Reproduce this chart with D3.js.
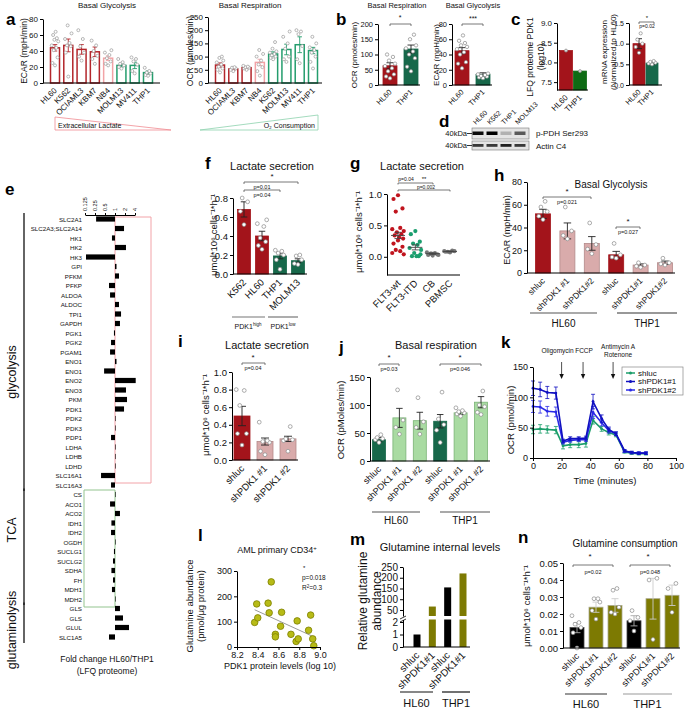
<!DOCTYPE html>
<html><head><meta charset="utf-8">
<script src="https://cdn.jsdelivr.net/npm/d3@7/dist/d3.min.js"></script>
<style>
html,body{margin:0;padding:0;background:#fff;}
svg{display:block;font-family:"Liberation Sans",Arial,Helvetica,sans-serif;}
</style></head><body>
<svg id="fig" width="685" height="709" viewBox="0 0 685 709"></svg>
<script>
// ===================== DATA =====================
// panel a
const aGlyCats = ["HL60","K562","OCIAML3","KBM7","NB4","MOLM13","MV411","THP1"];
const aGlyMean = [44,47,42,39,31,22,22,13];
const aGlyErr  = [4,8,6,6,3,2,4,2];
const aGlyPts  = [[22,25,32,41,44,47,52,54,56,60,64],[8,38,46,47,50,55,62,72],[28,33,38,46,55,66],[24,30,34,40,47,53],[22,24,27,31,35,38,41],[18,20,22,24,26,30],[12,15,23,27,30,32],[9,10,12,13,15,19]];
const aGlyGroup = ["hi","hi","hi","hi","mid","lo","lo","lo"];
const aRespCats = ["HL60","OCIAML3","KBM7","NB4","K562","MOLM13","MV411","THP1"];
const aRespMean = [68,53,58,78,110,127,145,123];
const aRespErr  = [8,4,4,12,8,20,30,12];
const aRespPts  = [[40,50,55,62,70,78,85,95,100],[45,50,55,58,60],[50,55,58,60,62,65],[28,45,60,70,85,100,110,125],[90,95,100,105,110,115,120,130,155],[80,90,100,130,150,175,195],[75,90,140,185,195,200],[55,80,100,115,125,135,150,175]];
const aRespGroup = ["hi","hi","hi","mid","lo","lo","lo","lo"];
// panel b
const bCats = ["HL60","THP1"];
const bRespMean = [63,118], bRespErr = [10,13];
const bRespPts = [[22,28,35,45,55,62,70,80,92,100],[45,60,88,100,110,120,130,150,165]];
const bGlyMean = [45,14], bGlyErr = [4,2];
const bGlyPts = [[22,28,30,40,43,47,50,52,55,58,65],[9,10,11,12,13,14,15]];
// panel c
const cLfq = [8.3,7.78];
const cMrnaMean = [1.0,0.53], cMrnaErr = [0.12,0.03];
const cMrnaPts = [[0.78,0.92,1.0,1.1,1.25],[0.5,0.52,0.54,0.56,0.58]];
// panel d
const dLanes = ["HL60","K562","THP1","MOLM13"];
const dPPDH = [0.95,1.0,0.22,0.6];
const dActin = [0.75,0.75,0.85,0.75];
// panel e
const eGenes = ["SLC2A1","SLC2A3;SLC2A14","HK1","HK2","HK3","GPI","PFKM","PFKP","ALDOA","ALDOC","TPI1","GAPDH","PGK1","PGK2","PGAM1","ENO1","ENO1","ENO2","ENO3","PKM","PDK1","PDK2","PDK3","PDP1","LDHA","LDHB","LDHD","SLC16A1","SLC16A3","CS","ACO1","ACO2","IDH1","IDH2","OGDH","SUCLG1","SUCLG2","SDHA","FH","MDH1","MDH2","GLS","GLS","GLUL","SLC1A5"];
const eFold = [0.27,1.87,0.81,2.14,0.134,1.11,1.32,0.66,0.71,1.32,1.52,1.41,0.93,0.76,0.71,1.11,0.47,4.2,2.14,2.3,1.87,1.01,1.0,0.76,1.03,1.0,1.0,0.38,0.76,1.03,0.71,1.41,0.78,0.76,1.0,0.93,0.87,0.78,0.87,0.81,1.03,1.41,1.74,2.64,0.66];
const eTicks = [0.125,0.25,0.5,1,2,4];
const ePathways = [{name:"glycolysis",from:0,to:28},{name:"TCA",from:29,to:40},{name:"glutaminolysis",from:41,to:44}];
// panel f
const fCats = ["K562","HL60","THP1","MOLM13"];
const fMean = [0.68,0.40,0.19,0.14], fErr = [0.08,0.05,0.03,0.02];
const fPts = [[0.52,0.66,0.76,0.8],[0.26,0.3,0.34,0.38,0.5,0.53,0.57],[0.05,0.15,0.2,0.22,0.24,0.25],[0.1,0.11,0.15,0.19,0.2]];
// panel g
const gCats = ["FLT3-wt","FLT3-ITD","CB","PBMSC"];
const gPts = [[0.98,0.92,0.77,0.72,0.46,0.44,0.41,0.39,0.36,0.34,0.31,0.29,0.26,0.21,0.16,0.11,0.09,0.06,0.04],[0.41,0.36,0.24,0.21,0.19,0.14,0.11,0.06,0.01,0.01,0.01,0.04],[0.02,0.03,0.04,0.05,0.06,0.07,0.03,0.05],[0.07,0.08,0.09,0.08,0.1,0.09]];
const gMean = [0.34,0.15,0.05,0.085], gSem = [0.05,0.04,0.01,0.006];
// panel h
const hCats = ["shluc","shPDK1 #1","shPDK1#2","shluc","shPDK1#1","shPDK1#2"];
const hMean = [52,37,26,16,7,9], hErr = [4,7,6,3,1,1.5];
const hPts = [[47,50,54,58,63],[30,33,37,58],[17,21,25,44],[13,14,16,26],[5,6,7,9],[7,8,9,13]];
// panel i
const iCats = ["shluc","shPDK1 #1","shPDK1 #2"];
const iMean = [0.5,0.21,0.24], iErr = [0.11,0.04,0.03];
const iPts = [[0.17,0.3,0.3,0.62,0.79,0.8],[0.06,0.1,0.2,0.21,0.22,0.43],[0.1,0.22,0.23,0.24,0.38]];
// panel j
const jCats = ["shluc","shPDK1 #1","shPDK1 #2","shluc","shPDK1 #1","shPDK1 #2"];
const jMean = [38,77,72,71,86,105], jErr = [4,17,15,12,3,10];
const jPts = [[33,38,40,42,47],[48,60,73,127],[48,60,70,113],[33,55,65,75,123],[80,84,86,88,90,95],[83,87,97,100,125]];
// panel k
const kTime = [0,5,10,16,21,26,32,37,42,48,53,58,64,69,74,79];
const kShluc = [47,48,47,46,20,22,22,24,62,48,42,38,10,8,7,7];
const kShlucErr = [7,7,6,6,5,5,5,6,6,4,4,3,2,2,2,2];
const kSh1 = [115,113,108,107,28,32,32,33,93,65,47,40,12,9,8,8];
const kSh1Err = [12,12,10,10,3,3,3,3,12,6,4,3,2,2,2,2];
const kSh2 = [85,84,77,76,26,29,30,30,75,58,45,40,11,9,8,8];
const kSh2Err = [10,10,8,8,3,3,3,3,10,5,4,3,2,2,2,2];
const kInjections = [{t:20,label:["Oligomycin"]},{t:35,label:["FCCP"]},{t:56,label:["Antimycin A","Rotenone"]}];
// panel l
const lPDK1 = [8.37,8.39,8.40,8.50,8.51,8.53,8.57,8.57,8.62,8.63,8.72,8.78,8.77,8.79,8.89,8.91,8.93,8.94];
const lGln  = [97,170,115,173,135,257,50,40,82,137,50,103,22,32,66,126,32,5];
const lFit  = [[8.37,147],[8.93,42]];
// panel m
const mCats = ["shluc","shPDK1#1","shluc","shPDK1#1"];
const mVals = [1,66,155,220];
// panel n
const nCats = ["shluc","shPDK1#1","shPDK1#2","shluc","shPDK1#1","shPDK1#2"];
const nMean = [0.012,0.024,0.025,0.016,0.029,0.031], nErr = [0.003,0.003,0.004,0.003,0.012,0.006];
const nPts = [[0.0,0.009,0.012,0.014,0.015,0.019],[0.017,0.022,0.027,0.029,0.029],[0.02,0.021,0.024,0.034,0.035],[0.01,0.016,0.018,0.022],[0.005,0.04,0.041],[0.021,0.035,0.038]];

// ===================== STYLE =====================
const FONT = "'Liberation Sans', Arial, Helvetica, sans-serif";
const RED = "#a3141b", GREEN = "#17684a", DGREEN = "#0e6b14";
const PINK = "#d9abab", PINKS = "#b38a8a", LGREEN = "#a9dba2", LGREENS = "#7bb376";
const OLIVE = "#7d7a02";
const aCol = {hi:"#b3262b", mid:"#f2a3a6", lo:"#249d6d"};
const JIT = [0,-0.28,0.28,-0.14,0.14,-0.36,0.36,-0.07,0.21,-0.21,0.07,0.32];

const svg = d3.select("#fig");
const defs = svg.append("defs");

function txt(g,x,y,s,o={}){
  const t = g.append("text").attr("x",x).attr("y",y).text(s)
    .attr("font-size",o.fs||9).attr("text-anchor",o.anchor||"middle").attr("fill",o.fill||"#111");
  if(o.bold) t.attr("font-weight","bold");
  if(o.rot!=null) t.attr("transform",`rotate(${o.rot},${x},${y})`);
  if(o.db) t.attr("dominant-baseline",o.db);
  return t;
}
function panelLabel(x,y,s){ txt(svg,x,y,s,{fs:17,bold:true,anchor:"start",fill:"#000"}); }
function ylab(x,y,s,fs){ return txt(svg,x,y,s,{fs:fs,rot:-90,db:"central"}); }
function styleAxis(ax,fs){
  ax.selectAll("path.domain").attr("stroke","#000").attr("stroke-width",1);
  ax.selectAll(".tick line").attr("stroke","#000");
  ax.selectAll(".tick text").attr("font-size",fs).attr("font-family",FONT).attr("fill","#111");
}
function yAxis(g,y,x,ticks,fmt,fs){
  const ax = g.append("g").attr("transform",`translate(${x},0)`)
    .call(d3.axisLeft(y).tickValues(ticks).tickFormat(fmt).tickSize(3).tickSizeOuter(0).tickPadding(2));
  styleAxis(ax,fs); return ax;
}
function bracket(x1,x2,y,h=2,col="#555"){
  svg.append("path").attr("d",`M${x1},${y+h}V${y}H${x2}V${y+h}`).attr("fill","none").attr("stroke",col).attr("stroke-width",0.8);
}
function groupLine(x1,x2,y,label,ly,fs,col="#333"){
  svg.append("line").attr("x1",x1).attr("x2",x2).attr("y1",y).attr("y2",y).attr("stroke",col).attr("stroke-width",1.2);
  if(label) txt(svg,(x1+x2)/2,ly,label,{fs:fs});
}

function barPanel(c){
  const g = svg.append("g");
  const n = c.vals.length;
  const x = d3.scalePoint().domain(d3.range(n)).range([c.xFirst,c.xLast]);
  const y = d3.scaleLinear().domain(c.yDomain).range(c.yRange);
  const base = y(c.yDomain[0]);
  g.selectAll(null).data(c.vals).join("rect")
    .attr("x",(d,i)=>x(i)-c.barW/2).attr("y",d=>y(d))
    .attr("width",c.barW).attr("height",d=>base-y(d))
    .attr("fill",(d,i)=>c.fill[i]).attr("stroke",(d,i)=>c.stroke[i]).attr("stroke-width",c.sw||0.8);
  const ec = (i)=> Array.isArray(c.errColor)? c.errColor[i] : (c.errColor||"#222");
  if(c.errs) c.errs.forEach((e,i)=>{
    const cx=x(i), cw=(c.capW||c.barW*0.5)/2, v=c.vals[i];
    const lo = Math.max(v-e,c.yDomain[0]);
    g.append("path").attr("d",`M${cx},${y(lo)}V${y(v+e)}M${cx-cw},${y(v+e)}H${cx+cw}M${cx-cw},${y(lo)}H${cx+cw}`)
      .attr("stroke",ec(i)).attr("stroke-width",c.ew||0.9).attr("fill","none");
  });
  if(c.pts) c.pts.forEach((arr,i)=>{
    g.selectAll(null).data(arr).join("circle")
      .attr("cx",(d,j)=>x(i)+JIT[j%JIT.length]*c.barW).attr("cy",d=>y(d)).attr("r",c.r||1.8)
      .attr("fill",c.ptFill||"#fff").attr("stroke",c.ptStroke||"#8a8a8a").attr("stroke-width",0.7);
  });
  yAxis(g,y,c.axisX,c.ticks,c.fmt,c.fs);
  g.append("line").attr("x1",c.axisX).attr("x2",c.axisEnd).attr("y1",base).attr("y2",base).attr("stroke","#000");
  const lfs = c.lfs||c.fs;
  c.cats.forEach((s,i)=>txt(g,x(i)+lfs*0.3,base+lfs*0.75+2,s,{fs:lfs,anchor:"end",rot:-45}));
  return {g,x,y,base};
}

// ===================== PANEL a =====================
panelLabel(6,25,"a");
txt(svg,107,8,"Basal Glycolysis",{fs:8});
barPanel({cats:aGlyCats,vals:aGlyMean,errs:aGlyErr,pts:aGlyPts,
  fill:aGlyMean.map(()=>"#fff"),stroke:aGlyGroup.map(k=>aCol[k]),errColor:aGlyGroup.map(k=>aCol[k]),sw:1.5,
  xFirst:55,xLast:148,barW:9,axisX:43,axisEnd:160,yDomain:[0,80],yRange:[83,19],
  ticks:[0,20,40,60,80],fmt:d3.format("d"),fs:8,r:1.5,ptStroke:"#9a9a9a"});
ylab(24,51,"ECAR (mpH/min)",8.5);
txt(svg,250,8,"Basal Respiration",{fs:8});
barPanel({cats:aRespCats,vals:aRespMean,errs:aRespErr,pts:aRespPts,
  fill:aRespMean.map(()=>"#fff"),stroke:aRespGroup.map(k=>aCol[k]),errColor:aRespGroup.map(k=>aCol[k]),sw:1.5,
  xFirst:220,xLast:313,barW:9,axisX:208,axisEnd:322,yDomain:[0,250],yRange:[83,17],
  ticks:[0,50,100,150,200,250],fmt:d3.format("d"),fs:8,r:1.5,ptStroke:"#9a9a9a"});
ylab(190,51,"OCR (pmoles/min)",8.5);
// triangles
const gp = defs.append("linearGradient").attr("id","gPink");
gp.append("stop").attr("offset","0%").attr("stop-color","#f6b3b6");
gp.append("stop").attr("offset","100%").attr("stop-color","#c4001a");
const gg = defs.append("linearGradient").attr("id","gGreen");
gg.append("stop").attr("offset","0%").attr("stop-color","#0b8a55");
gg.append("stop").attr("offset","100%").attr("stop-color","#b9e5cd");
svg.append("path").attr("d","M55,117L55,130L171,130Z").attr("fill","none").attr("stroke","#f08c92").attr("stroke-width",0.8);
svg.append("line").attr("x1",55).attr("x2",171).attr("y1",130).attr("y2",130).attr("stroke","url(#gPink)").attr("stroke-width",1.6);
txt(svg,58,127.5,"Extracellular Lactate",{fs:7,anchor:"start"});
svg.append("path").attr("d","M200,130L318,115L318,130Z").attr("fill","none").attr("stroke","#8dd2ad").attr("stroke-width",0.8);
svg.append("line").attr("x1",200).attr("x2",318).attr("y1",130).attr("y2",130).attr("stroke","url(#gGreen)").attr("stroke-width",1.6);
txt(svg,315,127.5,"O\u2082 Consumption",{fs:7,anchor:"end"});

// ===================== PANEL b =====================
panelLabel(336,25,"b");
txt(svg,397,8,"Basal Respiration",{fs:7.5});
barPanel({cats:bCats,vals:bRespMean,errs:bRespErr,pts:bRespPts,fill:[RED,GREEN],stroke:[RED,GREEN],
  xFirst:390,xLast:411,barW:14,axisX:378,axisEnd:420,yDomain:[0,200],yRange:[85,24],
  ticks:[0,50,100,150,200],fmt:d3.format("d"),fs:7.5,r:1.7});
ylab(354,55,"OCR (pmoles/min)",8);
bracket(390,411,24); txt(svg,400,20,"*",{fs:7});
txt(svg,473,8,"Basal Glycolysis",{fs:7.5});
barPanel({cats:bCats,vals:bGlyMean,errs:bGlyErr,pts:bGlyPts,fill:[RED,GREEN],stroke:[RED,GREEN],
  xFirst:462,xLast:483,barW:14,axisX:452,axisEnd:492,yDomain:[0,80],yRange:[85,24],
  ticks:[0,20,40,60,80],fmt:d3.format("d"),fs:7.5,r:1.7});
ylab(436,55,"ECAR (mpH/min)",8);
bracket(462,483,24); txt(svg,473,21,"***",{fs:7});

// ===================== PANEL c =====================
panelLabel(511,25,"c");
barPanel({cats:bCats,vals:cLfq,pts:cLfq.map(v=>[v]),fill:[RED,DGREEN],stroke:[RED,DGREEN],
  xFirst:566,xLast:580,barW:13,axisX:557,axisEnd:588,yDomain:[7.3,9.0],yRange:[90,23],
  ticks:[7.5,8.0,8.5,9.0],fmt:d3.format(".1f"),fs:8,r:1.5,ptFill:"#ddd"});
ylab(530,57,"LFQ proteome PDK1",8.5);
ylab(541,57,"(log10)",8.5);
barPanel({cats:bCats,vals:cMrnaMean,errs:cMrnaErr,pts:cMrnaPts,fill:[RED,GREEN],stroke:[RED,GREEN],
  xFirst:639,xLast:652,barW:12,axisX:629,axisEnd:662,yDomain:[0,1.5],yRange:[85,23],
  ticks:[0,0.5,1.0,1.5],fmt:d3.format(".1f"),fs:7,lfs:7.5,r:1.6});
ylab(604,52,"mRNA expression",8);
ylab(613,52,"(Normalized to HL60)",8);
bracket(639,654,22); txt(svg,647,20,"*",{fs:6}); txt(svg,647,28,"p=0.02",{fs:5});

// ===================== PANEL d =====================
panelLabel(439,127,"d");
const dx = d3.scalePoint().domain(dLanes).range([478,520]);
dLanes.forEach(l=>txt(svg,dx(l)-2,125,l,{fs:7,anchor:"start",rot:-45}));
const blur = defs.append("filter").attr("id","blur").attr("x","-20%").attr("y","-50%").attr("width","140%").attr("height","200%");
blur.append("feGaussianBlur").attr("stdDeviation",0.7);
svg.append("rect").attr("x",472).attr("y",128).attr("width",57).attr("height",11).attr("fill","#e4e4e4").attr("stroke","#777").attr("stroke-width",0.6);
svg.append("rect").attr("x",472).attr("y",141).attr("width",57).attr("height",9).attr("fill","#e4e4e4").attr("stroke","#777").attr("stroke-width",0.6);
svg.selectAll(null).data(dLanes).join("rect").attr("x",l=>dx(l)-5.5).attr("y",131.5).attr("width",11).attr("height",3.5)
  .attr("fill","#000").attr("opacity",(l,i)=>dPPDH[i]).attr("filter","url(#blur)");
svg.selectAll(null).data(dLanes).join("rect").attr("x",l=>dx(l)-5.5).attr("y",144).attr("width",11).attr("height",2.8)
  .attr("fill","#000").attr("opacity",(l,i)=>dActin[i]).attr("filter","url(#blur)");
txt(svg,467,136,"40kDa",{fs:7.5,anchor:"end"}); svg.append("line").attr("x1",467).attr("x2",472).attr("y1",133.5).attr("y2",133.5).attr("stroke","#333");
txt(svg,467,148,"40kDa",{fs:7.5,anchor:"end"}); svg.append("line").attr("x1",467).attr("x2",472).attr("y1",145.5).attr("y2",145.5).attr("stroke","#333");
txt(svg,536,136,"p-PDH Ser293",{fs:8,anchor:"start"});
txt(svg,536,149,"Actin C4",{fs:8,anchor:"start"});

// ===================== PANEL e =====================
panelLabel(5,195,"e");
const ex = d3.scaleLog().base(2).domain([0.125,4]).range([85,135]);
const ey = d3.scalePoint().domain(d3.range(eGenes.length)).range([219,637]);
const eAx = svg.append("g").attr("transform","translate(0,215)")
  .call(d3.axisTop(ex).tickValues(eTicks).tickFormat(d=>String(d)).tickSize(2).tickSizeOuter(0));
styleAxis(eAx,5.5);
eAx.selectAll(".tick text").attr("transform","rotate(-90)").attr("text-anchor","start").attr("x",4).attr("y",0).attr("dy","0.35em");
svg.append("path").attr("d",`M${ex(1)},217H151V483H${ex(1)}Z`).attr("fill","none").attr("stroke","#f2a3a8").attr("stroke-width",1);
svg.append("path").attr("d",`M${ex(1)},490H84V607H${ex(1)}Z`).attr("fill","none").attr("stroke","#93c48f").attr("stroke-width",1);
svg.selectAll(null).data(eFold).join("rect")
  .attr("x",d=>Math.min(ex(1),ex(d))).attr("y",(d,i)=>ey(i)-2.6)
  .attr("width",d=>Math.max(0.6,Math.abs(ex(d)-ex(1)))).attr("height",5.2).attr("fill","#000");
eGenes.forEach((s,i)=>txt(svg,82,ey(i),s,{fs:6.2,anchor:"end",db:"central"}));
const pwLabelY = {glycolysis:372,TCA:530,glutaminolysis:630};
ePathways.forEach(p=>{
  const y1 = ey(p.from)-6, y2 = ey(p.to)+6;
  svg.append("line").attr("x1",24).attr("x2",24).attr("y1",y1).attr("y2",y2).attr("stroke","#111").attr("stroke-width",1.3);
  ylab(12,pwLabelY[p.name],p.name,12.5);
});
txt(svg,107,662,"Fold change HL60/THP1",{fs:8.5});
txt(svg,107,674,"(LFQ proteome)",{fs:8.5});

// ===================== PANEL f =====================
panelLabel(205,169,"f");
txt(svg,272,170,"Lactate secretion",{fs:11});
barPanel({cats:fCats,vals:fMean,errs:fErr,pts:fPts,fill:[RED,RED,GREEN,GREEN],stroke:[RED,RED,GREEN,GREEN],
  xFirst:244,xLast:298,barW:13,axisX:233,axisEnd:307,yDomain:[0,0.8],yRange:[274,198],
  ticks:[0,0.2,0.4,0.6,0.8],fmt:d3.format(".1f"),fs:9.5,lfs:9.5,r:1.9});
ylab(213,235,"\u03bcmol*10\u2076 cells\u207b\u00b9*h\u207b\u00b9",9.5);
txt(svg,272,179,"*",{fs:8}); bracket(244,298,182); txt(svg,262,188.5,"p=0.01",{fs:5.5});
bracket(244,280,190); txt(svg,262,196.5,"p=0.04",{fs:5.5});
groupLine(232,265,317,"",0,7,"#777"); groupLine(268,298,317,"",0,7,"#777");
txt(svg,248,329,"PDK1",{fs:7}).append("tspan").attr("dy",-3).attr("font-size",4.5).text("high");
txt(svg,283,329,"PDK1",{fs:7}).append("tspan").attr("dy",-3).attr("font-size",4.5).text("low");

// ===================== PANEL g =====================
panelLabel(350,169,"g");
txt(svg,422,170,"Lactate secretion",{fs:11});
{
  const g = svg.append("g");
  const x = d3.scalePoint().domain(gCats).range([398,450]);
  const y = d3.scaleLinear().domain([-0.29,1.0]).range([275,194]);
  const cols = ["#c0141e","#1a9e6e","#777","#777"];
  gPts.forEach((arr,i)=>{
    g.selectAll(null).data(arr).join("circle").attr("cx",(d,j)=>x(gCats[i])+JIT[j%JIT.length]*16).attr("cy",d=>y(d))
      .attr("r",2.1).attr("fill",cols[i]);
    const cx = x(gCats[i]);
    g.append("path").attr("d",`M${cx-7},${y(gMean[i])}H${cx+7}M${cx},${y(gMean[i]-gSem[i])}V${y(gMean[i]+gSem[i])}M${cx-3.5},${y(gMean[i]-gSem[i])}H${cx+3.5}M${cx-3.5},${y(gMean[i]+gSem[i])}H${cx+3.5}`)
      .attr("stroke","#444").attr("stroke-width",0.9).attr("fill","none");
  });
  yAxis(g,y,387,[0,0.5,1.0],d3.format(".1f"),9.5);
  g.append("line").attr("x1",387).attr("x2",460).attr("y1",275).attr("y2",275).attr("stroke","#000");
  gCats.forEach(s=>txt(g,x(s)+3,284,s,{fs:9.5,anchor:"end",rot:-45}));
}
ylab(358,232,"\u03bcmol*10\u2076 cells\u207b\u00b9*h\u207b\u00b9",9.5);
bracket(398,433,183,1.5); txt(svg,406,181,"p=0.04",{fs:5}); txt(svg,424,181,"**",{fs:6});
bracket(398,450,190,1.5); txt(svg,426,188.5,"p=0.002",{fs:5});

// ===================== PANEL h =====================
panelLabel(494,181,"h");
txt(svg,611,188,"Basal Glycolysis",{fs:10});
barPanel({cats:hCats,vals:hMean,errs:hErr,pts:hPts,fill:[RED,PINK,PINK,RED,PINK,PINK],stroke:[RED,PINKS,PINKS,RED,PINKS,PINKS],
  xFirst:543,xLast:665,barW:15,axisX:527,axisEnd:675,yDomain:[0,80],yRange:[273,182],
  ticks:[0,20,40,60,80],fmt:d3.format("d"),fs:9,lfs:8.5,r:1.9});
ylab(507,230,"ECAR (mpH/min)",9);
txt(svg,567,194,"*",{fs:8}); bracket(543,591,197); txt(svg,567,203.5,"p=0.021",{fs:5.5});
txt(svg,628,224,"*",{fs:8}); bracket(616,640,227); txt(svg,628,233.5,"p=0.027",{fs:5.5});
groupLine(530,597,313,"HL60",327,10,"#555");
groupLine(617,677,313,"THP1",327,10,"#333");

// ===================== PANEL i =====================
panelLabel(178,347,"i");
txt(svg,267,349,"Lactate secretion",{fs:11});
barPanel({cats:iCats,vals:iMean,errs:iErr,pts:iPts,fill:[RED,PINK,PINK],stroke:[RED,PINKS,PINKS],
  xFirst:242,xLast:288,barW:16,axisX:232,axisEnd:298,yDomain:[0,1.0],yRange:[460,372],
  ticks:[0,0.2,0.4,0.6,0.8,1.0],fmt:d3.format(".1f"),fs:9.5,lfs:9.5,r:1.9});
ylab(205,415,"\u03bcmol*10\u2076 cells\u207b\u00b9*h\u207b\u00b9",9.5);
txt(svg,253,360,"*",{fs:8}); bracket(242,265,363); txt(svg,253,369.5,"p=0.04",{fs:5.5});

// ===================== PANEL j =====================
panelLabel(339,353,"j");
txt(svg,436,349,"Basal respiration",{fs:11});
barPanel({cats:jCats,vals:jMean,errs:jErr,pts:jPts,fill:[GREEN,LGREEN,LGREEN,GREEN,LGREEN,LGREEN],stroke:[GREEN,LGREENS,LGREENS,GREEN,LGREENS,LGREENS],
  xFirst:379,xLast:481,barW:13,axisX:370,axisEnd:490,yDomain:[0,150],yRange:[461,377],
  ticks:[0,50,100,150],fmt:d3.format("d"),fs:9.5,lfs:9,r:1.9});
ylab(340,420,"OCR (pMoles/min)",9.5);
txt(svg,389,360,"*",{fs:8}); bracket(379,399,364); txt(svg,389,370.5,"p=0.03",{fs:5.5});
txt(svg,460,360,"*",{fs:8}); bracket(440,481,364); txt(svg,460,370.5,"p=0.046",{fs:5.5});
groupLine(372,420,512,"HL60",524,10,"#555");
groupLine(440,490,512,"THP1",524,10,"#555");

// ===================== PANEL k =====================
panelLabel(501,348,"k");
{
  const g = svg.append("g");
  const x = d3.scaleLinear().domain([0,100]).range([533,676]);
  const y = d3.scaleLinear().domain([0,150]).range([458,367]);
  const series = [
    {v:kShluc,e:kShlucErr,c:"#1b9e6a",name:"shluc"},
    {v:kSh2,e:kSh2Err,c:"#2a2ae6",name:"shPDK1#2"},
    {v:kSh1,e:kSh1Err,c:"#1010c0",name:"shPDK1#1"}];
  const line = d3.line().x((d,i)=>x(kTime[i])).y(d=>y(d));
  series.forEach(s=>{
    s.v.forEach((v,i)=>{
      const cx=x(kTime[i]);
      g.append("path").attr("d",`M${cx},${y(v-s.e[i])}V${y(v+s.e[i])}M${cx-2},${y(v-s.e[i])}H${cx+2}M${cx-2},${y(v+s.e[i])}H${cx+2}`)
        .attr("stroke",s.c).attr("stroke-width",0.8).attr("fill","none");
    });
    g.append("path").datum(s.v).attr("d",line).attr("fill","none").attr("stroke",s.c).attr("stroke-width",1.6);
    g.selectAll(null).data(s.v).join("circle").attr("cx",(d,i)=>x(kTime[i])).attr("cy",d=>y(d)).attr("r",1.4).attr("fill",s.c);
  });
  yAxis(g,y,533,[0,50,100,150],d3.format("d"),9);
  const xa = g.append("g").attr("transform","translate(0,458)")
    .call(d3.axisBottom(x).tickValues([0,20,40,60,80,100]).tickSize(3).tickSizeOuter(0).tickPadding(2));
  styleAxis(xa,9);
  kInjections.forEach(k=>{
    const ax = x(k.t);
    g.append("line").attr("x1",ax).attr("x2",ax).attr("y1",362).attr("y2",374).attr("stroke","#222").attr("stroke-width",0.8);
    g.append("path").attr("d",`M${ax-2.2},${374}L${ax+2.2},${374}L${ax},${379}Z`).attr("fill","#111");
    if(k.label.length===1) txt(g,ax-4+(k.t>30?5:0),353,k.label[0],{fs:6.5});
    else { txt(g,ax+5,349,k.label[0],{fs:6.5}); txt(g,ax+5,357,k.label[1],{fs:6.5}); }
  });
  g.append("rect").attr("x",622).attr("y",367).attr("width",61).attr("height",28).attr("fill","#fff").attr("stroke","#888").attr("stroke-width",0.7);
  [series[0],series[2],series[1]].forEach((s,i)=>{
    const ly = 373+i*8.5;
    g.append("line").attr("x1",626).attr("x2",635).attr("y1",ly).attr("y2",ly).attr("stroke",s.c).attr("stroke-width",1.5);
    g.append("circle").attr("cx",630.5).attr("cy",ly).attr("r",1.5).attr("fill",s.c);
    txt(g,638,ly,s.name,{fs:8,anchor:"start",db:"central"});
  });
}
ylab(510,420,"OCR (pmol/min)",9.5);
txt(svg,605,484,"Time (minutes)",{fs:9.5});

// ===================== PANEL l =====================
panelLabel(198,541,"l");
txt(svg,277,553,"AML primary CD34",{fs:9}).append("tspan").attr("dy",-3.5).attr("font-size",6).text("+");
{
  const g = svg.append("g");
  const x = d3.scaleLinear().domain([8.2,9.0]).range([237,320]);
  const y = d3.scaleLinear().domain([0,300]).range([647,571]);
  g.append("path").datum(lFit).attr("d",d3.line().x(d=>x(d[0])).y(d=>y(d[1]))).attr("stroke","#9a9a9a").attr("stroke-width",1).attr("fill","none");
  g.selectAll(null).data(lPDK1).join("circle").attr("cx",d=>x(d)).attr("cy",(d,i)=>y(lGln[i])).attr("r",3.3)
    .attr("fill","#b7bb16").attr("stroke","#7c7f00").attr("stroke-width",0.8);
  yAxis(g,y,237,[0,100,200,300],d3.format("d"),9);
  const xa = g.append("g").attr("transform","translate(0,647)")
    .call(d3.axisBottom(x).tickValues([8.2,8.4,8.6,8.8,9.0]).tickFormat(d3.format(".1f")).tickSize(3).tickSizeOuter(0).tickPadding(2));
  styleAxis(xa,9);
}
txt(svg,303,570,"*",{fs:6,anchor:"start"});
txt(svg,302,580,"p=0.018",{fs:6.5,anchor:"start"});
txt(svg,302,590,"R",{fs:6.5,anchor:"start"}).call(t=>{t.append("tspan").attr("dy",-2.5).attr("font-size",4.5).text("2");t.append("tspan").attr("dy",2.5).text("=0.3");});
ylab(189,606,"Glutamine abundance",9.5);
ylab(200,606,"(pmol/\u03bcg protein)",9.5);
txt(svg,280,669,"PDK1 protein levels (log 10)",{fs:9});

// ===================== PANEL m =====================
panelLabel(350,545,"m");
txt(svg,440,551,"Glutamine internal levels",{fs:11});
{
  const g = svg.append("g");
  const x = d3.scalePoint().domain(d3.range(mVals.length)).range([417,463]);
  const yLo = d3.scaleLinear().domain([0,2.2]).range([647,619.5]);
  const yHi = d3.scaleLinear().domain([22,250]).range([616,567]);
  const cols = ["#000",OLIVE,"#000",OLIVE];
  mVals.forEach((v,i)=>{
    const cx=x(i), w=7;
    if(v<=2.2){
      g.append("rect").attr("x",cx-w/2).attr("y",yLo(v)).attr("width",w).attr("height",647-yLo(v)).attr("fill",cols[i]);
    } else {
      g.append("rect").attr("x",cx-w/2).attr("y",yLo(2.2)).attr("width",w).attr("height",647-yLo(2.2)).attr("fill",cols[i]);
      g.append("rect").attr("x",cx-w/2).attr("y",yHi(v)).attr("width",w).attr("height",616-yHi(v)).attr("fill",cols[i]);
    }
  });
  yAxis(g,yLo,403,[0,1,2],d3.format("d"),10);
  yAxis(g,yHi,403,[50,100,150,200,250],d3.format("d"),10);
  g.append("path").attr("d","M400,619L406,616M400,622L406,619").attr("stroke","#000").attr("stroke-width",0.8);
  g.append("line").attr("x1",403).attr("x2",470).attr("y1",647).attr("y2",647).attr("stroke","#000");
  mCats.forEach((s,i)=>txt(g,x(i)+3,656,s,{fs:10,anchor:"end",rot:-45}));
}
ylab(363,601,"Relative glutamine",12);
ylab(377,601,"abundance",12);
groupLine(400,433,692,"HL60",707,11,"#111");
groupLine(442,470,692,"THP1",707,11,"#111");

// ===================== PANEL n =====================
panelLabel(518,543,"n");
txt(svg,625,547,"Glutamine consumption",{fs:10});
barPanel({cats:nCats,vals:nMean,errs:nErr,pts:nPts,fill:["#000",OLIVE,OLIVE,"#000",OLIVE,OLIVE],stroke:["#444","#a9a88a","#a9a88a","#444","#a9a88a","#a9a88a"],
  errColor:["#aaa","#ccc","#ccc","#aaa","#ccc","#ccc"],
  xFirst:577,xLast:672,barW:14,axisX:563,axisEnd:680,yDomain:[0,0.05],yRange:[648,563],
  ticks:[0,0.01,0.02,0.03,0.04,0.05],fmt:d3.format(".2f"),fs:9.5,lfs:9,r:1.9});
ylab(526,606,"\u03bcmol*10\u2076 cells\u207b\u00b9*h\u207b\u00b9",9.5);
txt(svg,590,559,"*",{fs:8}); bracket(573,613,565); txt(svg,593,574,"p=0.02",{fs:5.5});
txt(svg,648,559,"*",{fs:8}); bracket(630,670,565); txt(svg,650,574,"p=0.048",{fs:5.5});
groupLine(565,607,694,"HL60",708,11,"#333");
groupLine(623,672,694,"THP1",708,11,"#999");
</script>
</body></html>
